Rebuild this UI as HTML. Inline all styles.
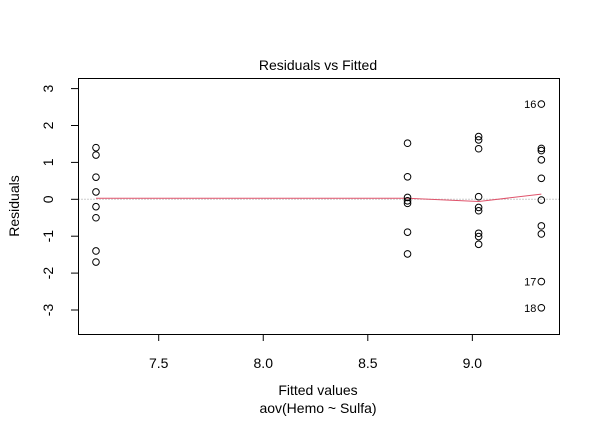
<!DOCTYPE html>
<html><head><meta charset="utf-8"><style>
body{margin:0;background:#fff}
svg{display:block;font-family:"Liberation Sans",Arial,sans-serif}
</style></head><body>
<svg id="chart" width="600" height="432">
<text x="318" y="70" text-anchor="middle" font-size="14">Residuals vs Fitted</text>
<text x="318" y="395" text-anchor="middle" font-size="14">Fitted values</text>
<text x="318" y="413" text-anchor="middle" font-size="14">aov(Hemo ~ Sulfa)</text>
<text transform="translate(19,206) rotate(-90)" text-anchor="middle" font-size="14">Residuals</text>
<g id="marks"></g>
<rect x="78.5" y="78.5" width="481" height="256" fill="none" stroke="#000" stroke-width="1"/>
</svg>
<script>
const fitted = [7.2, 8.69, 9.03, 9.33];
const residuals = [
 [1.4,1.2,0.6,0.2,-0.2,-0.5,-1.4,-1.7],
 [1.52,0.61,0.05,-0.04,-0.11,-0.89,-1.48],
 [1.70,1.61,1.37,0.07,-0.22,-0.31,-0.92,-1.01,-1.22],
 [2.58,1.38,1.32,1.07,0.57,-0.02,-0.72,-0.94,-2.23,-2.94]
];
const labelGroup = 3;
const labeledValues = [2.58,-2.23,-2.94];
const labelTexts = ["16","17","18"];
const smoothX = [7.2, 8.69, 9.03, 9.33];
const smoothY = [0.03, 0.03, -0.06, 0.14];
const xTicks = [7.5, 8.0, 8.5, 9.0];
const xTickLabels = ["7.5","8.0","8.5","9.0"];
const yTicks = [-3,-2,-1,0,1,2,3];
const yTickLabels = ["-3","-2","-1","0","1","2","3"];

const NS = "http://www.w3.org/2000/svg";
const X = v => 158.7 + (v - 7.5) * 209.1;
const Y = v => 199.3 - v * 36.9;
const g = document.getElementById('marks');
function mk(t, a){const e=document.createElementNS(NS,t);for(const k in a)e.setAttribute(k,a[k]);g.appendChild(e);return e;}

const zl = mk('line',{x1:78.5,x2:559.5,y1:Y(0),y2:Y(0),stroke:'#999','stroke-dasharray':'1,2'});



xTicks.forEach((v,i)=>{
 const l=mk('line',{x1:X(v),x2:X(v),y1:334.5,y2:341,stroke:'#000'});
 
 
 const t=mk('text',{x:X(v),y:368,'text-anchor':'middle','font-size':14});
 t.textContent=xTickLabels[i];
 
 
});
yTicks.forEach((v,i)=>{
 const l=mk('line',{x1:71,x2:78.5,y1:Y(v),y2:Y(v),stroke:'#000'});
 
 
 const t=mk('text',{transform:`translate(${53},${Y(v)}) rotate(-90)`,'text-anchor':'middle','font-size':14});
 t.textContent=yTickLabels[i];
 
 
});

let d='';
smoothX.forEach((v,i)=>{d+=(i?'L':'M')+X(v)+','+Y(smoothY[i]);});
const sm=mk('path',{d:d,fill:'none',stroke:'#DF536B','stroke-width':1});



residuals.forEach((grp,gi)=>{
 grp.forEach(r=>{
  const c=mk('circle',{cx:X(fitted[gi]),cy:Y(r),r:3.3,fill:'none',stroke:'#000','stroke-width':1});
  
  
 });
});
labeledValues.forEach((r,i)=>{
 const t=mk('text',{x:X(fitted[labelGroup])-5,y:Y(r)+4,'text-anchor':'end','font-size':11,fill:'#000'});
 t.textContent=labelTexts[i];
 
 
});
</script>
</body></html>
